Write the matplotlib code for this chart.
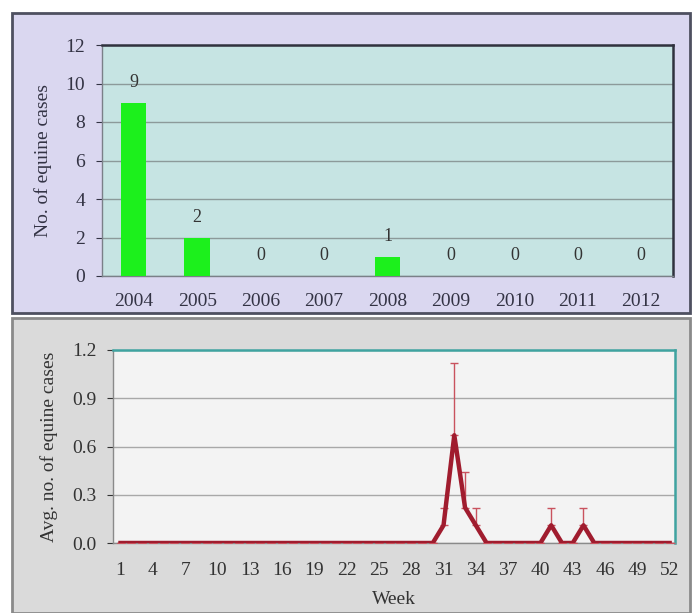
import matplotlib.pyplot as plt
from matplotlib.patches import Rectangle
import numpy as np

plt.rcParams['font.family'] = ['Liberation Serif', 'DejaVu Serif']

# yearly totals
years = ['2004', '2005', '2006', '2007', '2008', '2009', '2010', '2011', '2012']
cases = [9, 2, 0, 0, 1, 0, 0, 0, 0]

# weekly averages over the 9 years, with upper error
weeks = np.arange(1, 53)
avg_nonzero = {31: 0.11, 32: 0.67, 33: 0.22, 34: 0.11, 41: 0.11, 44: 0.11}
err_nonzero = {31: 0.11, 32: 0.45, 33: 0.22, 34: 0.11, 41: 0.11, 44: 0.11}
avg = [avg_nonzero.get(w, 0.0) for w in weeks]
err = [err_nonzero.get(w, 0.0) for w in weeks]
week_ticks = list(range(1, 53, 3))

W, H = 696, 613
fig = plt.figure(figsize=(W / 100, H / 100), dpi=100)

def fx(px):
    return px / W

def fy(py):
    return 1 - py / H

# panel backgrounds
fig.patches.append(Rectangle((fx(12), fy(313)), fx(690) - fx(12), fy(13) - fy(313),
                             transform=fig.transFigure, facecolor='#dad7f0',
                             edgecolor='#4e5060', lw=2, zorder=-5))
fig.patches.append(Rectangle((fx(12), fy(613)), fx(690) - fx(12), fy(318) - fy(613),
                             transform=fig.transFigure, facecolor='#dadada',
                             edgecolor='#8a8a8a', lw=2, zorder=-5))

# top chart
ax1 = fig.add_axes([fx(102), fy(276), fx(673) - fx(102), fy(45) - fy(276)])
ax1.set_facecolor('#c6e4e3')
x = np.arange(len(years))
ax1.bar(x, cases, width=0.4, color='#1cf01c', zorder=3)
for xi, v in zip(x, cases):
    ax1.text(xi, v + 0.6, str(v), ha='center', va='bottom', fontsize=13, color='#333333')
ax1.set_xlim(-0.5, len(years) - 0.5)
ax1.set_ylim(0, 12)
ax1.set_yticks(range(0, 13, 2))
ax1.set_xticks(x)
ax1.set_xticklabels(years)
ax1.yaxis.grid(True, color='#8c9a9a', lw=1)
ax1.set_axisbelow(True)
ax1.tick_params(axis='both', labelsize=14, colors='#333344', length=4)
ax1.tick_params(axis='y', pad=8)
ax1.tick_params(axis='x', length=0, pad=12)
ax1.set_ylabel('No. of equine cases', fontsize=14, color='#333344', labelpad=10)
for s in ['top', 'right']:
    ax1.spines[s].set_color('#30323e')
    ax1.spines[s].set_linewidth(1.8)
for s in ['left', 'bottom']:
    ax1.spines[s].set_color('#7a8088')
    ax1.spines[s].set_linewidth(1)

# bottom chart
ax2 = fig.add_axes([fx(113), fy(543), fx(675) - fx(113), fy(350) - fy(543)])
ax2.set_facecolor('#f3f3f3')
ax2.errorbar(weeks, avg, yerr=[np.zeros(len(err)), err], fmt='none',
             ecolor='#c9525e', elinewidth=1, capsize=3, capthick=1, zorder=3)
ax2.plot(weeks, avg, color='#a01c2e', lw=3.2, zorder=4)
ax2.set_xlim(0.3, 52.5)
ax2.set_ylim(0, 1.2)
ax2.set_yticks([0.0, 0.3, 0.6, 0.9, 1.2])
ax2.set_yticklabels(['0.0', '0.3', '0.6', '0.9', '1.2'])
ax2.set_xticks(week_ticks)
ax2.yaxis.grid(True, color='#a8a8a8', lw=1)
ax2.set_axisbelow(True)
ax2.tick_params(axis='both', labelsize=14, colors='#333333', length=4)
ax2.tick_params(axis='y', pad=8)
ax2.tick_params(axis='x', length=0, pad=14)
ax2.set_xlabel('Week', fontsize=14, color='#333333', labelpad=8)
ax2.set_ylabel('Avg. no. of equine cases', fontsize=14, color='#333333', labelpad=10)
for s in ['top', 'right']:
    ax2.spines[s].set_color('#3fa3a0')
    ax2.spines[s].set_linewidth(1.8)
for s in ['left', 'bottom']:
    ax2.spines[s].set_color('#8a8a8a')
    ax2.spines[s].set_linewidth(1)

fig.savefig('out.png', dpi=100)
